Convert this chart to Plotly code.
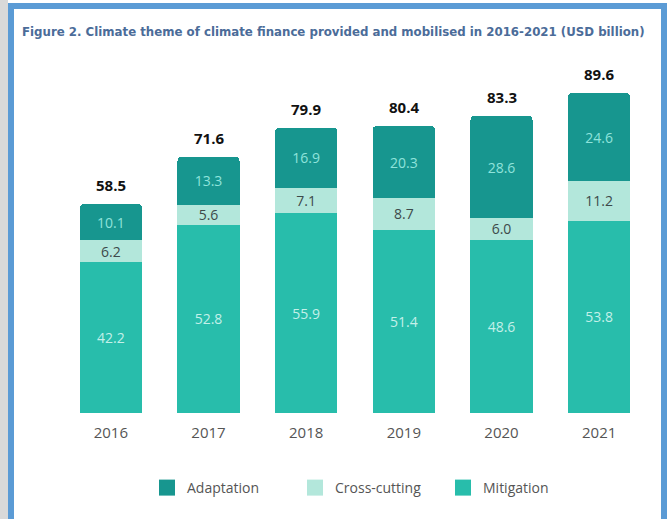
import plotly.graph_objects as go

years = ["2016", "2017", "2018", "2019", "2020", "2021"]
mitigation = [42.2, 52.8, 55.9, 51.4, 48.6, 53.8]
cross_cutting = [6.2, 5.6, 7.1, 8.7, 6.0, 11.2]
adaptation = [10.1, 13.3, 16.9, 20.3, 28.6, 24.6]
totals = [58.5, 71.6, 79.9, 80.4, 83.3, 89.6]

C_ADAPT = "#17968f"
C_CROSS = "#b3e7db"
C_MITIG = "#28bdab"

W, H = 667, 519
ML, MR, MT, MB = 62, 19, 60, 106
PW, PH = W - ML - MR, H - MT - MB


def px_x(p):
    return (p - ML) / PW


def px_y(p):
    return (H - MB - p) / PH


fig = go.Figure()
font_in = dict(family="Open Sans", size=14)
series = [
    ("Mitigation", mitigation, C_MITIG, "#c4f0e9"),
    ("Cross-cutting", cross_cutting, C_CROSS, "#3d4a4a"),
    ("Adaptation", adaptation, C_ADAPT, "#8fe3db"),
]
for name, vals, col, tcol in series:
    fig.add_trace(go.Bar(
        x=years, y=vals, name=name, marker=dict(color=col, line=dict(width=0)),
        text=vals, texttemplate="%{y:.1f}", textposition="inside", insidetextanchor="middle",
        textangle=0, constraintext="none", insidetextfont=dict(color=tcol, **font_in),
        hoverinfo="skip", showlegend=False))

# legend entries (square swatches)
for rank, (name, vals, col, tcol) in enumerate(reversed(series)):
    fig.add_trace(go.Scatter(
        x=[years[0]], y=[None], mode="markers", name=name,
        marker=dict(symbol="square", size=16, color=col, line=dict(width=0)),
        legendrank=rank + 1, hoverinfo="skip"))

for i, t in enumerate(totals):
    fig.add_annotation(x=i, y=t, text=f"<b>{t:.1f}</b>", showarrow=False, yshift=19,
                       yanchor="middle", font=dict(family="Open Sans", size=15, color="#111111"))

shapes = [
    dict(type="rect", xref="paper", yref="paper", x0=px_x(-5), x1=px_x(8), y0=px_y(530), y1=px_y(-5),
         fillcolor="#d9d9d9", line=dict(width=0), layer="below"),
    dict(type="rect", xref="paper", yref="paper", x0=px_x(11), x1=px_x(664), y0=px_y(530), y1=px_y(6),
         fillcolor="rgba(0,0,0,0)", line=dict(color="#5b9bd5", width=6), layer="below"),
]

fig.update_layout(
    width=W, height=H,
    margin=dict(l=ML, r=MR, t=MT, b=MB, autoexpand=False),
    paper_bgcolor="white", plot_bgcolor="white",
    barmode="stack", bargap=0.365, barcornerradius=4,
    title=dict(text="<b>Figure 2. Climate theme of climate finance provided and mobilised in 2016-2021 (USD billion)</b>",
               x=22 / W, xanchor="left", y=1 - 31 / H, yanchor="middle",
               font=dict(family="DejaVu Sans Condensed, Roboto, sans-serif", size=13.1, color="#4b6c99")),
    xaxis=dict(type="category", categoryorder="array", categoryarray=years, range=[-0.5, len(years) - 0.5],
               showline=False, showgrid=False, zeroline=False, ticks="outside", ticklen=6,
               tickcolor="white", tickfont=dict(family="Open Sans", size=15, color="#555555"), automargin=False),
    yaxis=dict(visible=False, range=[0, PH / 3.57]),
    legend=dict(orientation="h", x=px_x(147), xanchor="left", y=px_y(488), yanchor="middle",
                font=dict(family="Open Sans", size=14, color="#555555"), traceorder="normal",
                itemsizing="trace", entrywidth=103, entrywidthmode="pixels"),
    shapes=shapes,
    showlegend=True,
)

fig.write_html("out.html", config={"displayModeBar": False},
               post_script="document.body.style.margin='0';")
